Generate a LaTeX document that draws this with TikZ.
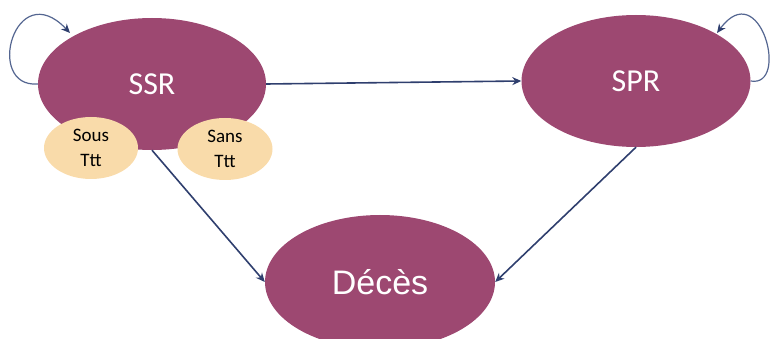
\documentclass[tikz,border=0pt]{standalone}
\usepackage{fontspec}
\setmainfont{Carlito}
\newfontfamily\arialf{Liberation Sans}
\usetikzlibrary{shapes.geometric,arrows.meta}
\definecolor{plum}{RGB}{157,72,113}
\definecolor{peach}{RGB}{249,219,170}
\definecolor{navy}{RGB}{47,63,110}
\definecolor{loopc}{RGB}{84,102,145}
\tikzset{
  state/.style={ellipse,fill=plum,draw=none,inner sep=0pt,text=white},
  sub/.style={ellipse,fill=peach,draw=none,inner sep=0pt,text=black,align=center,
    font=\fontsize{19}{25}\selectfont},
  conn/.style={navy,line width=1.6pt,-{Stealth[length=9pt,width=8pt]}},
  selfloop/.style={loopc,line width=1.2pt,-{Stealth[length=9pt,width=8pt,color=navy]}}
}
\begin{document}
\begin{tikzpicture}[x=1pt,y=-1pt]
\useasboundingbox (0,0) rectangle (771,339);
\node[state,minimum width=228pt,minimum height=132pt,font=\fontsize{32}{38}\selectfont] (ssr) at (152,84) {SSR};
\node[state,minimum width=229pt,minimum height=132pt,font=\fontsize{32}{38}\selectfont] (spr) at (636,81) {SPR};
\node[state,minimum width=230pt,minimum height=134pt,font=\arialf\fontsize{34}{40}\selectfont] (deces) at (380,282) {Décès};
\draw[conn] (ssr.east) -- (spr.west);
\draw[conn] (ssr.south) -- (deces.west);
\draw[conn] (spr.south) -- (deces.east);
\coordinate (ssrin) at (70,33);
\coordinate (sprin) at (717,33);
\draw[selfloop] (ssr.west) .. controls (-16,88) and (15,-25) .. (ssrin);
\draw[selfloop] (spr.east) .. controls (790,88) and (760,-25) .. (sprin);
\node[sub,minimum width=94pt,minimum height=62pt] (sous) at (91,148) {Sous\\Ttt};
\node[sub,minimum width=95pt,minimum height=62pt] (sans) at (225,149) {Sans\\Ttt};
\end{tikzpicture}
\end{document}
